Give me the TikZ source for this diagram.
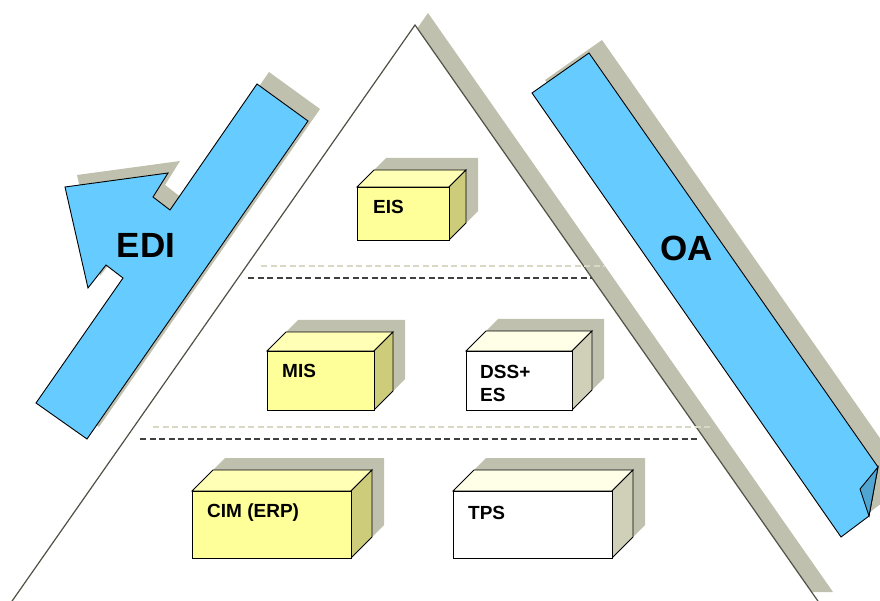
\documentclass[tikz,border=0pt]{standalone}
\usepackage{fontspec}
\setmainfont{Liberation Sans}

\definecolor{sky}{RGB}{102,204,255}
\definecolor{foldblue}{RGB}{80,165,210}
\definecolor{dropgray}{RGB}{192,192,174}
\definecolor{paledrop}{RGB}{216,216,196}
\definecolor{lemon}{RGB}{255,255,153}
\definecolor{lemontop}{RGB}{255,255,182}
\definecolor{lemonside}{RGB}{204,204,122}
\definecolor{creamtop}{RGB}{255,255,232}
\definecolor{creamside}{RGB}{208,208,184}
\definecolor{rim}{RGB}{80,80,68}

% front x1 y1 x2 y2, depth, front/top/side colours
\newcommand{\crate}[8]{
  \fill[dropfill] ({#1+12},{#4-12}) -- ({#1+12},{#2-12}) -- ({#1+#5+12},{#2-#5-12}) -- ({#3+#5+12},{#2-#5-12}) -- ({#3+#5+12},{#4-#5-12}) -- ({#3+12},{#4-12}) -- cycle;
  \draw[rimline,fill=#7] (#1,#2) -- ({#1+#5},{#2-#5}) -- ({#3+#5},{#2-#5}) -- (#3,#2) -- cycle;
  \draw[rimline,fill=#8] (#3,#2) -- ({#3+#5},{#2-#5}) -- ({#3+#5},{#4-#5}) -- (#3,#4) -- cycle;
  \draw[rimline,fill=#6] (#1,#2) rectangle (#3,#4);
}

\begin{document}
\begin{tikzpicture}[x=1pt,y=-1pt]
	\tikzstyle{dropfill}=[fill=dropgray]
	\tikzstyle{rimline}=[draw=black,line width=0.9pt]
	\tikzstyle{tier}=[draw=black!75,line width=1.2pt,dash pattern=on 6pt off 3.5pt]
	\tikzstyle{tiershadow}=[draw=paledrop,line width=1.8pt,dash pattern=on 6pt off 3.5pt]
	\tikzstyle{boxtag}=[font=\fontsize{19}{23}\selectfont\bfseries,inner sep=0pt,anchor=west,align=left]
	\tikzstyle{bandtag}=[font=\fontsize{35}{40}\selectfont\bfseries,inner sep=0pt]

	\useasboundingbox (0,0) rectangle (880,601);

	% pyramid
	\fill[dropfill] (428,13) -- (833,592) -- (23,592) -- cycle;
	\draw[draw=rim,line width=1.2pt,fill=white] (415,25) -- (820,604) -- (10,604) -- cycle;

	% EDI arrow
	\fill[dropfill,shift={(12,-12)}] (36,403) -- (123,278) -- (106,265) -- (88,288) -- (65,187) -- (168,173) -- (153,197) -- (170,210) -- (257,84) -- (308,121) -- (87,439) -- cycle;
	\draw[rimline,fill=sky] (36,403) -- (123,278) -- (106,265) -- (88,288) -- (65,187) -- (168,173) -- (153,197) -- (170,210) -- (257,84) -- (308,121) -- (87,439) -- cycle;
	\node[bandtag] (edi) at (146,245) {EDI};

	% OA band
	\fill[dropfill,shift={(13,-13)}] (532,93) -- (589,53) -- (878,467) -- (869,516) -- (841,537) -- cycle;
	\draw[rimline,fill=sky] (532,93) -- (589,53) -- (878,467) -- (869,516) -- (841,537) -- cycle;
	\draw[rimline,fill=foldblue] (878,467) -- (860,489) -- (869,516) -- cycle;
	\node[bandtag] (oa) at (687,248) {OA};

	\draw[tiershadow] (261,266) -- (605,266);
	\draw[tier] (248,278) -- (592,278);
	\draw[tiershadow] (153,427) -- (713,427);
	\draw[tier] (140,439) -- (700,439);

	\crate{357}{187}{449}{240}{17}{lemon}{lemontop}{lemonside}
	\crate{267}{351}{374}{410}{19}{lemon}{lemontop}{lemonside}
	\crate{466}{351}{572}{410}{20}{white}{creamtop}{creamside}
	\crate{192}{491}{351}{558}{21}{lemon}{lemontop}{lemonside}
	\crate{453}{491}{612}{558}{21}{white}{creamtop}{creamside}

	\node[boxtag] (eis) at (373,207) {EIS};
	\node[boxtag] (mis) at (282,371) {MIS};
	\node[boxtag,anchor=north west] (dss) at (480,365) {DSS+\\ES};
	\node[boxtag] (cim) at (207,513) {CIM (ERP)};
	\node[boxtag] (tps) at (468,513) {TPS};
\end{tikzpicture}
\end{document}
